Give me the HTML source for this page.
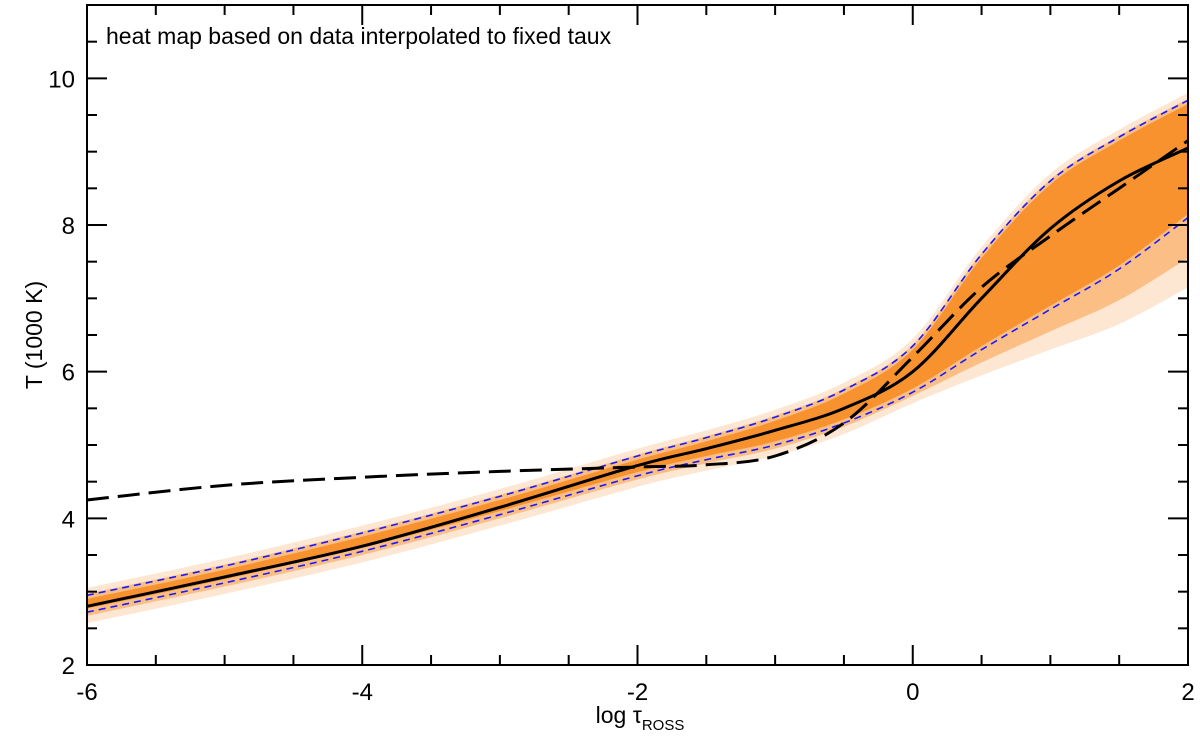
<!DOCTYPE html>
<html><head><meta charset="utf-8"><style>
body{margin:0;background:#fff;font-family:"Liberation Sans",sans-serif}
</style></head><body>
<svg id="chart" width="1200" height="742" xmlns="http://www.w3.org/2000/svg" font-family="Liberation Sans, sans-serif">
<g id="marks"></g>
<g id="axes"></g>
<text x="106" y="44" font-size="23">heat map based on data interpolated to fixed taux</text>
<text transform="translate(42,335) rotate(-90)" text-anchor="middle" font-size="23">T (1000 K)</text>
<text x="640" y="723" text-anchor="middle" font-size="23">log τ<tspan font-size="15" dy="7">ROSS</tspan></text>
</svg>
<script>
const xs = [-6,-5,-4,-3,-2,-1.5,-1,-0.5,0,0.5,1,1.5,2];
const meanT = [2.8,3.2,3.62,4.15,4.72,4.95,5.2,5.5,6.0,7.0,7.95,8.6,9.05];
const fitT = [4.25,4.45,4.56,4.64,4.7,4.73,4.85,5.3,6.2,7.15,7.85,8.5,9.15];
const upperT = [2.95,3.35,3.8,4.3,4.85,5.1,5.38,5.75,6.35,7.6,8.6,9.2,9.7];
const lowerT = [2.72,3.12,3.55,4.05,4.58,4.8,5.0,5.3,5.72,6.3,6.85,7.4,8.1];
const xTicks = [-6,-4,-2,0,2];
const yTicks = [2,4,6,8,10];

const L=87,R=1188,T=5,B=665;
const X=v=>L+(v+6)/8*(R-L);
const Y=v=>B-(v-2)/9*(B-T);
const NS="http://www.w3.org/2000/svg";
const marks=document.getElementById('marks'), axes=document.getElementById('axes');
function mk(tag,attrs,parent){const e=document.createElementNS(NS,tag);for(const k in attrs)e.setAttribute(k,attrs[k]);parent.appendChild(e);return e;}
function pp(arr,off){return xs.map((x,i)=>[X(x),Y(arr[i]+(off?off(i):0))]);}
function seg(p,start){let d=start?'M'+p[0]:' L'+p[0];for(let i=0;i<p.length-1;i++){const p0=p[Math.max(0,i-1)],p1=p[i],p2=p[i+1],p3=p[Math.min(p.length-1,i+2)];const c1=[p1[0]+(p2[0]-p0[0])/6,p1[1]+(p2[1]-p0[1])/6],c2=[p2[0]-(p3[0]-p1[0])/6,p2[1]-(p3[1]-p1[1])/6];d+=' C'+c1+' '+c2+' '+p2;}return d;}
function smooth(arr){return seg(pp(arr),true);}
function band(up,lo){return seg(up,true)+seg(lo.slice().reverse(),false)+' Z';}
let outer=mk('path',{d:band(pp(upperT,i=>0.1),pp(lowerT,i=>-0.15-Math.max(0,xs[i])*0.4)),fill:'#fde6d2'},marks);

let mid=mk('path',{d:band(pp(upperT,i=>0.02),pp(lowerT,i=>-0.05-Math.max(0,xs[i])*0.25)),fill:'#fbbf85'},marks);

let core=mk('path',{d:band(pp(upperT,i=>-0.05),pp(lowerT,i=>0.05)),fill:'#f7922e'},marks);

let u=mk('path',{d:smooth(upperT),fill:'none',stroke:'#1a1aff','stroke-width':1.6,'stroke-dasharray':'7,5'},marks);

let lo=mk('path',{d:smooth(lowerT),fill:'none',stroke:'#1a1aff','stroke-width':1.6,'stroke-dasharray':'7,5'},marks);

let f=mk('path',{d:smooth(fitT),fill:'none',stroke:'#000','stroke-width':3,'stroke-dasharray':'22,9'},marks);

let m=mk('path',{d:smooth(meanT),fill:'none',stroke:'#000','stroke-width':3},marks);

let fr=mk('rect',{x:L,y:T,width:R-L,height:B-T,fill:'none',stroke:'#000','stroke-width':2},axes);

for(let v=-6;v<=2.001;v+=0.5){const maj=Math.abs(v%2)<1e-6;const len=maj?20:10;const x=X(v);
 mk('line',{x1:x,x2:x,y1:B,y2:B-len,stroke:'#000','stroke-width':2},axes);
 mk('line',{x1:x,x2:x,y1:T,y2:T+len,stroke:'#000','stroke-width':2},axes);}
for(let v=2;v<=11.001;v+=0.5){const maj=Math.abs(v%2)<1e-6;const len=maj?20:10;const y=Y(v);
 mk('line',{x1:L,x2:L+len,y1:y,y2:y,stroke:'#000','stroke-width':2},axes);
 mk('line',{x1:R,x2:R-len,y1:y,y2:y,stroke:'#000','stroke-width':2},axes);}
xTicks.forEach(v=>{const t=mk('text',{x:X(v),y:700,'text-anchor':'middle','font-size':24},axes);t.textContent=v;
 });
yTicks.forEach(v=>{const t=mk('text',{x:75,y:Y(v)+9,'text-anchor':'end','font-size':24},axes);t.textContent=v;
 });
</script>
</body></html>
